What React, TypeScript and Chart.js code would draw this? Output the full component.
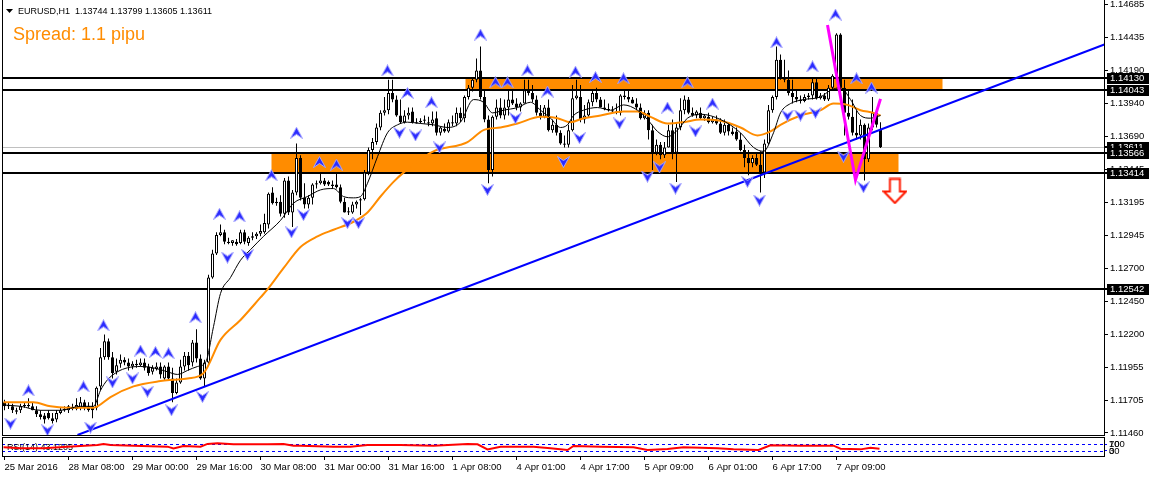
import React, { useEffect, useRef } from 'react';
import { Chart, registerables } from 'chart.js';

Chart.register(...registerables);

const FONT = "'Liberation Sans', Arial, sans-serif";
const ORANGE = '#FF8C00';

const headerText = 'EURUSD,H1  1.13744 1.13799 1.13605 1.13611';
const spreadText = 'Spread: 1.1 pipu';
const rsiText = 'RSI(14) 43.1205';

const timeLabels = [
  '25 Mar 2016', '28 Mar 08:00', '29 Mar 00:00', '29 Mar 16:00', '30 Mar 08:00',
  '31 Mar 00:00', '31 Mar 16:00', '1 Apr 08:00', '4 Apr 01:00', '4 Apr 17:00',
  '5 Apr 09:00', '6 Apr 01:00', '6 Apr 17:00', '7 Apr 09:00',
];
const barsPerLabel = 16;

const priceTicks = [
  1.14685, 1.14435, 1.1419, 1.1394, 1.1369, 1.13445, 1.13195,
  1.12945, 1.127, 1.1245, 1.122, 1.11955, 1.11705, 1.1146,
];
const priceMin = 1.11444;
const priceMax = 1.1472;
const barMin = -0.625;
const barMax = 274.875;

// [open, high, low, close] per H1 bar
const candles: number[][] = [
  [1.1169, 1.1171, 1.1163, 1.1166], [1.1166, 1.1169, 1.1164, 1.1167], [1.1166, 1.1168, 1.1161, 1.1163],
  [1.1163, 1.1165, 1.116, 1.1162], [1.1163, 1.1168, 1.1161, 1.1166], [1.1166, 1.1169, 1.1165, 1.1167],
  [1.1167, 1.1172, 1.1165, 1.1166], [1.1166, 1.1169, 1.1163, 1.1163], [1.1163, 1.1166, 1.1158, 1.116],
  [1.116, 1.1163, 1.1156, 1.1158], [1.1159, 1.1161, 1.1153, 1.1156], [1.1161, 1.1163, 1.1156, 1.1157],
  [1.1157, 1.1161, 1.1153, 1.1155], [1.1156, 1.1163, 1.1154, 1.1161], [1.1161, 1.1165, 1.116, 1.1163],
  [1.1163, 1.1166, 1.1162, 1.1164], [1.1163, 1.1167, 1.1161, 1.1166], [1.1165, 1.1168, 1.1163, 1.1164],
  [1.1164, 1.1172, 1.1163, 1.1167], [1.1165, 1.1173, 1.1163, 1.1169], [1.1169, 1.1171, 1.1163, 1.1165],
  [1.1166, 1.1169, 1.1162, 1.1163], [1.1166, 1.1169, 1.1157, 1.1163], [1.1165, 1.1181, 1.1163, 1.118],
  [1.1181, 1.121, 1.1178, 1.1203], [1.1203, 1.122, 1.1201, 1.1215], [1.1215, 1.1217, 1.1201, 1.1203],
  [1.1203, 1.1207, 1.1187, 1.1191], [1.1192, 1.1202, 1.119, 1.1197], [1.1198, 1.1205, 1.1195, 1.1201],
  [1.1201, 1.1203, 1.1197, 1.1199], [1.1199, 1.1202, 1.1193, 1.1196], [1.1196, 1.12, 1.1194, 1.1198],
  [1.1198, 1.1201, 1.1195, 1.1197], [1.1197, 1.1202, 1.1196, 1.1199], [1.1199, 1.1202, 1.1193, 1.1195],
  [1.1196, 1.1198, 1.1189, 1.1191], [1.1192, 1.1197, 1.119, 1.1195], [1.1194, 1.1199, 1.1193, 1.1196],
  [1.1196, 1.1199, 1.1187, 1.119], [1.1187, 1.1197, 1.1186, 1.1196], [1.1196, 1.1199, 1.1186, 1.1187],
  [1.1187, 1.1195, 1.1169, 1.1176], [1.1176, 1.1187, 1.1175, 1.1184], [1.1184, 1.1201, 1.1183, 1.1196],
  [1.1196, 1.1207, 1.1193, 1.1204], [1.1204, 1.1207, 1.1193, 1.1197], [1.1199, 1.1216, 1.1196, 1.1214],
  [1.1214, 1.1224, 1.1199, 1.1202], [1.1202, 1.1205, 1.1186, 1.1187], [1.1187, 1.1201, 1.1181, 1.1199],
  [1.1199, 1.1265, 1.1197, 1.1263], [1.1263, 1.1284, 1.1262, 1.1281], [1.1281, 1.1297, 1.128, 1.1295],
  [1.1295, 1.1303, 1.1294, 1.1297], [1.1297, 1.1299, 1.1288, 1.129], [1.129, 1.1293, 1.1288, 1.1289],
  [1.1289, 1.1291, 1.1287, 1.1291], [1.129, 1.1292, 1.1287, 1.1288], [1.1289, 1.1299, 1.1288, 1.1297],
  [1.1297, 1.1299, 1.1288, 1.129], [1.1289, 1.1294, 1.1287, 1.1293], [1.1293, 1.1297, 1.1291, 1.1294],
  [1.1294, 1.1297, 1.1292, 1.1296], [1.1296, 1.1303, 1.1294, 1.1298], [1.1297, 1.1311, 1.1296, 1.1304],
  [1.1303, 1.1327, 1.13, 1.1326], [1.1327, 1.1331, 1.1318, 1.1319], [1.1319, 1.1323, 1.1317, 1.132],
  [1.132, 1.1325, 1.1309, 1.1311], [1.1311, 1.1338, 1.1308, 1.1336], [1.1336, 1.1339, 1.131, 1.1312],
  [1.1312, 1.1329, 1.1301, 1.1327], [1.1327, 1.1364, 1.1325, 1.1353], [1.1353, 1.1355, 1.1321, 1.1323],
  [1.1323, 1.1334, 1.1315, 1.1318], [1.1318, 1.1325, 1.1315, 1.1323], [1.1323, 1.1334, 1.1318, 1.1333],
  [1.1333, 1.1336, 1.133, 1.1334], [1.1334, 1.1342, 1.1333, 1.1336], [1.1336, 1.1338, 1.1332, 1.1333],
  [1.1335, 1.1336, 1.1332, 1.1333], [1.1333, 1.1336, 1.133, 1.1332], [1.1333, 1.1342, 1.133, 1.1331],
  [1.1331, 1.1333, 1.1319, 1.132], [1.132, 1.1323, 1.1312, 1.1312], [1.1313, 1.1316, 1.131, 1.1312],
  [1.1312, 1.132, 1.1311, 1.1318], [1.1318, 1.1321, 1.1315, 1.132], [1.1321, 1.1323, 1.131, 1.1322],
  [1.1322, 1.1344, 1.1321, 1.1342], [1.1342, 1.1361, 1.134, 1.1359], [1.1359, 1.1368, 1.1352, 1.1365],
  [1.1365, 1.1379, 1.1363, 1.1376], [1.1376, 1.1389, 1.1374, 1.1387], [1.1387, 1.1399, 1.1385, 1.1389],
  [1.1389, 1.1412, 1.1386, 1.1402], [1.1402, 1.1412, 1.1395, 1.1397], [1.1397, 1.14, 1.1384, 1.1385],
  [1.1385, 1.1397, 1.1379, 1.138], [1.138, 1.1389, 1.1379, 1.1385], [1.1385, 1.1391, 1.1382, 1.1387],
  [1.1388, 1.1391, 1.1379, 1.138], [1.138, 1.1383, 1.1379, 1.1379], [1.138, 1.1383, 1.1379, 1.1381],
  [1.1381, 1.1385, 1.1379, 1.1382], [1.138, 1.1384, 1.1377, 1.1379], [1.1379, 1.1388, 1.1377, 1.1382],
  [1.1383, 1.1388, 1.137, 1.1372], [1.1372, 1.1377, 1.137, 1.1376], [1.1375, 1.1379, 1.1372, 1.1373],
  [1.1373, 1.1382, 1.1372, 1.138], [1.138, 1.1385, 1.1377, 1.1379], [1.1379, 1.1391, 1.1377, 1.1387],
  [1.1387, 1.1391, 1.138, 1.1383], [1.1383, 1.14, 1.138, 1.1399], [1.1399, 1.1408, 1.1397, 1.1406],
  [1.1406, 1.1413, 1.1403, 1.1412], [1.1412, 1.1428, 1.141, 1.1419], [1.1419, 1.1437, 1.1397, 1.1399],
  [1.1399, 1.1404, 1.138, 1.1382], [1.1382, 1.1385, 1.1334, 1.1344], [1.1344, 1.1385, 1.1339, 1.1384],
  [1.1384, 1.1397, 1.1382, 1.1391], [1.1391, 1.1398, 1.1383, 1.1385], [1.1385, 1.1397, 1.1382, 1.1391],
  [1.1391, 1.1404, 1.1385, 1.1397], [1.1397, 1.1404, 1.1393, 1.1394], [1.1394, 1.1398, 1.1389, 1.1391],
  [1.1391, 1.1395, 1.1388, 1.1394], [1.1394, 1.1412, 1.1394, 1.1404], [1.1404, 1.1412, 1.14, 1.1402],
  [1.1402, 1.1408, 1.1395, 1.1397], [1.1397, 1.14, 1.1385, 1.1387], [1.1387, 1.1393, 1.1382, 1.1384],
  [1.1384, 1.1393, 1.1383, 1.1391], [1.1391, 1.1397, 1.1373, 1.1374], [1.1374, 1.1382, 1.1372, 1.1378],
  [1.1378, 1.1385, 1.137, 1.1372], [1.1372, 1.1374, 1.1363, 1.1364], [1.1364, 1.137, 1.1361, 1.1363],
  [1.1363, 1.1378, 1.1361, 1.1374], [1.1374, 1.1408, 1.1373, 1.1398], [1.1398, 1.1412, 1.1397, 1.14],
  [1.1399, 1.1408, 1.138, 1.1382], [1.1382, 1.1393, 1.1379, 1.1385], [1.1385, 1.1397, 1.1384, 1.1395],
  [1.1395, 1.1404, 1.1392, 1.1402], [1.1402, 1.1406, 1.1395, 1.1397], [1.1397, 1.1399, 1.1391, 1.1391],
  [1.1391, 1.1397, 1.1389, 1.139], [1.139, 1.1394, 1.1388, 1.1389], [1.1389, 1.1392, 1.1387, 1.1388],
  [1.1388, 1.1394, 1.1386, 1.1387], [1.1387, 1.1401, 1.1385, 1.14], [1.14, 1.1404, 1.1397, 1.1399],
  [1.1399, 1.1404, 1.1395, 1.1397], [1.1397, 1.1399, 1.1394, 1.1394], [1.1394, 1.1398, 1.1389, 1.1391],
  [1.1391, 1.1394, 1.1382, 1.1383], [1.1383, 1.1389, 1.1382, 1.1387], [1.1387, 1.1389, 1.1367, 1.1374],
  [1.1374, 1.1378, 1.1344, 1.1357], [1.1357, 1.1367, 1.1355, 1.1363], [1.1363, 1.1365, 1.1352, 1.1355],
  [1.1355, 1.1365, 1.1353, 1.1361], [1.1361, 1.1378, 1.1361, 1.1374], [1.1374, 1.1382, 1.1352, 1.1357],
  [1.1357, 1.138, 1.1335, 1.1376], [1.1376, 1.1398, 1.1374, 1.1389], [1.1389, 1.14, 1.1386, 1.1397],
  [1.1397, 1.1399, 1.1386, 1.1387], [1.1387, 1.1391, 1.1384, 1.1385], [1.1385, 1.1389, 1.1383, 1.1388],
  [1.1387, 1.1391, 1.1382, 1.1383], [1.1383, 1.1386, 1.1381, 1.1385], [1.1384, 1.1387, 1.1379, 1.138],
  [1.138, 1.1384, 1.1379, 1.1382], [1.1382, 1.1385, 1.1378, 1.1379], [1.1379, 1.1383, 1.1371, 1.1372],
  [1.1372, 1.1382, 1.137, 1.1378], [1.1378, 1.1379, 1.137, 1.1373], [1.1373, 1.1376, 1.137, 1.1371],
  [1.1373, 1.1376, 1.1366, 1.1367], [1.1367, 1.1372, 1.1358, 1.1359], [1.1359, 1.1363, 1.1346, 1.1353],
  [1.1353, 1.1359, 1.134, 1.1349], [1.1349, 1.1355, 1.1346, 1.1353], [1.1353, 1.1356, 1.1347, 1.1348],
  [1.1348, 1.1358, 1.1327, 1.1342], [1.1342, 1.1367, 1.1338, 1.1364], [1.1364, 1.1393, 1.1363, 1.1389],
  [1.1389, 1.14, 1.1387, 1.1399], [1.1399, 1.1437, 1.1397, 1.1427], [1.1427, 1.1431, 1.1412, 1.1414],
  [1.1414, 1.1427, 1.141, 1.1412], [1.1412, 1.1419, 1.14, 1.1402], [1.1402, 1.1412, 1.1394, 1.1399],
  [1.1399, 1.1404, 1.1395, 1.1397], [1.1397, 1.14, 1.1394, 1.1396], [1.1396, 1.1401, 1.1395, 1.1399],
  [1.1399, 1.1402, 1.1397, 1.14], [1.14, 1.1414, 1.1397, 1.141], [1.141, 1.1413, 1.1397, 1.1398],
  [1.1398, 1.1402, 1.1397, 1.14], [1.14, 1.1402, 1.1396, 1.1397], [1.1397, 1.1408, 1.1396, 1.1406],
  [1.1406, 1.1416, 1.1404, 1.1415], [1.1415, 1.1447, 1.1413, 1.1446], [1.1446, 1.1447, 1.1404, 1.1406],
  [1.1406, 1.1412, 1.137, 1.1387], [1.1387, 1.1404, 1.1382, 1.1384], [1.1384, 1.1397, 1.137, 1.1372],
  [1.1372, 1.1389, 1.1367, 1.137], [1.137, 1.1382, 1.1367, 1.1378], [1.1378, 1.1379, 1.1336, 1.1352],
  [1.1352, 1.1379, 1.135, 1.1376], [1.1376, 1.1399, 1.1374, 1.1387], [1.1387, 1.1389, 1.1376, 1.1378],
  [1.13744, 1.13799, 1.13605, 1.13611],
];

const levelLines = [1.1413, 1.14043, 1.13566, 1.13414, 1.12542];
const bidPrice = 1.13611;

const zoneFrom = [115.25, 66.75];
const zoneTo = [234.5, 223.5];
const zoneHigh = [1.1413, 1.13566];
const zoneLow = [1.14043, 1.13414];

const slowMA: number[][] = [
  [-0.25, 1.1169], [7.25, 1.1169], [11.5, 1.1166], [15.75, 1.1165], [22.25, 1.1165], [23.25, 1.1166],
  [26.5, 1.1173], [32.25, 1.1181], [39, 1.1185], [42.25, 1.1186], [45.75, 1.1187], [49.75, 1.1191],
  [54, 1.1216], [59, 1.1231], [64, 1.1248], [65.75, 1.1254], [69.75, 1.127], [74, 1.1286],
  [78.25, 1.1294], [82.25, 1.1299], [87.25, 1.1305], [90.75, 1.1312], [94, 1.1324], [97.25, 1.1335],
  [99.75, 1.1342], [107.25, 1.1358], [114, 1.1363], [115.75, 1.1365], [119.75, 1.1374], [124, 1.1376],
  [128.25, 1.1379], [134, 1.1384], [138.25, 1.1383], [141.5, 1.138], [144.75, 1.1383], [149, 1.1385],
  [154.75, 1.1388], [158.25, 1.1388], [161.5, 1.1384], [165.75, 1.1379], [169.75, 1.138], [174, 1.1382],
  [179, 1.1381], [184, 1.1376], [188.25, 1.137], [191.5, 1.1373], [194, 1.1378], [199, 1.1385],
  [204, 1.1389], [207.25, 1.1394], [210.75, 1.1393], [214, 1.1389], [217.25, 1.1387], [219, 1.1385],
];

const fastMA: number[][] = [
  [-0.25, 1.1167], [4, 1.1166], [9, 1.1163], [14, 1.1163], [19, 1.1166], [22.25, 1.1166],
  [24, 1.1178], [25.75, 1.1186], [28.25, 1.1192], [30.75, 1.1195], [34, 1.1196], [37.25, 1.1195],
  [40.75, 1.1192], [43.25, 1.119], [45.75, 1.1193], [48.25, 1.1196], [50.25, 1.1199], [52.25, 1.1226],
  [54, 1.1251], [56.5, 1.1263], [59, 1.1276], [61.5, 1.1284], [64.75, 1.1294], [69, 1.1306],
  [72.25, 1.1319], [75.75, 1.1324], [79, 1.1329], [82.25, 1.133], [84.75, 1.1324], [87.25, 1.1323],
  [89, 1.1324], [90.75, 1.1334], [93.25, 1.1354], [95.75, 1.1372], [98.25, 1.1378], [100.75, 1.138],
  [104, 1.1379], [107.25, 1.1378], [110.75, 1.1376], [114, 1.138], [117.25, 1.1397], [119.75, 1.1395],
  [122, 1.1387], [124.75, 1.1389], [128.25, 1.1391], [131.5, 1.1395], [134, 1.1389], [136.5, 1.1383],
  [139, 1.1376], [140.75, 1.1378], [142.25, 1.1385], [144.75, 1.1389], [148.25, 1.1391], [151.5, 1.1389],
  [154.75, 1.1393], [158.25, 1.1389], [160.75, 1.1382], [163.25, 1.1373], [165.75, 1.1369], [168.25, 1.1374],
  [170.75, 1.1383], [174, 1.1386], [179, 1.1382], [184, 1.1372], [187.25, 1.1361], [189.75, 1.1358],
  [192.25, 1.1372], [194, 1.1387], [196.5, 1.1394], [199.75, 1.1397], [204, 1.1399], [206.5, 1.1404],
  [209, 1.1406], [211.5, 1.1397], [214, 1.1385], [216.5, 1.1383], [219, 1.1385],
];

const trendLine: number[][] = [[18.25, 1.11444], [275, 1.14385]];
const zigzagLine: number[][] = [[205.75, 1.14532], [212.75, 1.13365], [219, 1.13975]];

const fractalUp: number[][] = [
  [6, 1.1178], [19.75, 1.1181], [24.75, 1.1227], [34, 1.1208], [37.75, 1.1207], [41, 1.1206],
  [47.75, 1.1233], [53.75, 1.1311], [58.75, 1.1309], [66.75, 1.134], [73, 1.1372], [78.75, 1.135],
  [83, 1.1348], [95.75, 1.1419], [100.75, 1.1402], [106.75, 1.1395], [119, 1.1446], [122.75, 1.141],
  [125.75, 1.141], [130.75, 1.1419], [135.75, 1.1403], [142.75, 1.1418], [147.75, 1.1414], [154.75, 1.1413],
  [165.75, 1.1391], [170.75, 1.141], [177, 1.1394], [193, 1.144], [202, 1.1422], [207.75, 1.1461],
  [213, 1.1413], [216.75, 1.1406],
];

const fractalDown: number[][] = [
  [1.5, 1.1153], [10.75, 1.1148], [21.5, 1.115], [27, 1.1184], [32, 1.1187], [35.75, 1.1177],
  [41.75, 1.1163], [49.5, 1.1173], [55.75, 1.1278], [60.75, 1.128], [71.75, 1.1297], [74.75, 1.131],
  [85.75, 1.1304], [88.5, 1.1304], [98.75, 1.1372], [102.75, 1.137], [108.75, 1.1361], [120.75, 1.1329],
  [127.75, 1.1383], [139.75, 1.135], [143.75, 1.1368], [153.75, 1.1379], [160.75, 1.1339], [163.75, 1.1346],
  [167.75, 1.133], [172.75, 1.1373], [185.75, 1.1335], [188.75, 1.1321], [195.75, 1.1385], [199, 1.1385],
  [202.75, 1.1387], [209.75, 1.1354], [214.75, 1.1331],
];

const sellSignal: number[][] = [[222.6, 1.13282]];

const rsiValues: number[][] = [
  [-0.25, 51], [4, 45], [9.75, 45], [15.75, 55], [23.25, 65], [24.75, 71], [26.5, 65], [32.25, 61],
  [40.75, 55], [42.25, 45], [44.75, 59], [49, 55], [50.75, 71], [53.25, 75], [57.25, 69], [65.75, 69],
  [69.75, 71], [72.25, 61], [74, 61], [82.25, 55], [86.5, 55], [90.75, 65], [99, 65], [107.25, 61],
  [115.75, 71], [118.25, 69], [120.75, 39], [124, 55], [132.25, 55], [136.5, 45], [140.75, 35], [142.25, 59],
  [149, 55], [157.25, 51], [160.75, 35], [165.75, 41], [169.75, 51], [178.25, 45], [182.25, 39], [188.5, 35],
  [191.5, 63], [199, 61], [207.25, 61], [209, 43], [214, 39], [216.5, 49], [218.75, 43],
];
const rsiLevels = [70, 30];
const rsiTickValues = [30, 30, 70, 70];
const rsiTickLabels = ['0', '30', '100', '70'];

function makeFractalArrow(up: boolean): HTMLCanvasElement {
  const c = document.createElement('canvas');
  c.width = 13;
  c.height = 12;
  const g = c.getContext('2d') as CanvasRenderingContext2D;
  g.beginPath();
  if (up) {
    g.moveTo(6.5, 0.5); g.lineTo(12.5, 11.5); g.lineTo(6.5, 7.5); g.lineTo(0.5, 11.5);
  } else {
    g.moveTo(6.5, 11.5); g.lineTo(12.5, 0.5); g.lineTo(6.5, 4.5); g.lineTo(0.5, 0.5);
  }
  g.closePath();
  g.fillStyle = '#2b2bff';
  g.fill();
  g.strokeStyle = '#a6a6ff';
  g.lineWidth = 1;
  g.stroke();
  return c;
}

function makeSellArrow(): HTMLCanvasElement {
  const c = document.createElement('canvas');
  c.width = 25;
  c.height = 27;
  const g = c.getContext('2d') as CanvasRenderingContext2D;
  g.beginPath();
  g.moveTo(7.5, 1.5); g.lineTo(17.5, 1.5); g.lineTo(17.5, 14); g.lineTo(23.5, 14);
  g.lineTo(12.5, 25.5); g.lineTo(1.5, 14); g.lineTo(7.5, 14);
  g.closePath();
  g.fillStyle = '#ffffff';
  g.fill();
  g.strokeStyle = '#ff1a00';
  g.lineWidth = 2;
  g.stroke();
  return c;
}

const toXY = (arr: number[][]) => arr.map((p) => ({ x: p[0], y: p[1] }));

export default function App() {
  const mainRef = useRef<HTMLCanvasElement | null>(null);
  const rsiRef = useRef<HTMLCanvasElement | null>(null);

  useEffect(() => {
    Chart.defaults.font.family = FONT;
    const upImg = makeFractalArrow(true);
    const downImg = makeFractalArrow(false);
    const sellImg = makeSellArrow();

    const decor = {
      id: 'mainDecor',
      beforeDatasetsDraw(chart: any) {
        const { ctx, chartArea } = chart;
        const xs = chart.scales.x;
        const ys = chart.scales.y;
        ctx.save();
        ctx.beginPath();
        ctx.rect(chartArea.left, chartArea.top, chartArea.right - chartArea.left, chartArea.bottom - chartArea.top);
        ctx.clip();
        ctx.fillStyle = ORANGE;
        for (let i = 0; i < zoneFrom.length; i++) {
          const x1 = xs.getPixelForValue(zoneFrom[i]);
          const x2 = xs.getPixelForValue(zoneTo[i]);
          const y1 = ys.getPixelForValue(zoneHigh[i]);
          const y2 = ys.getPixelForValue(zoneLow[i]);
          ctx.fillRect(x1, y1, x2 - x1, y2 - y1);
        }
        const by = Math.round(ys.getPixelForValue(bidPrice));
        ctx.fillStyle = '#c0c0c0';
        ctx.fillRect(chartArea.left, by, chartArea.right - chartArea.left, 1);
        ctx.fillStyle = '#000';
        for (const p of levelLines) {
          const py = Math.round(ys.getPixelForValue(p));
          ctx.fillRect(chartArea.left, py - 1, chartArea.right - chartArea.left, 2);
        }
        ctx.restore();
      },
      afterDraw(chart: any) {
        const { ctx, chartArea } = chart;
        const ys = chart.scales.y;
        ctx.save();
        ctx.fillStyle = '#000';
        ctx.fillRect(chartArea.left, 0, 1, chartArea.bottom + 1);
        ctx.fillRect(chartArea.left, chartArea.bottom, chartArea.right - chartArea.left + 1, 1);
        ctx.fillRect(chartArea.right, 0, 1, chartArea.bottom + 1);
        ctx.font = `9.5px ${FONT}`;
        ctx.textBaseline = 'middle';
        ctx.textAlign = 'left';
        const boxes = [bidPrice, ...levelLines];
        for (const p of boxes) {
          const py = Math.round(ys.getPixelForValue(p));
          ctx.fillStyle = '#000';
          ctx.fillRect(chartArea.right, py - 1, 4, 2);
          ctx.fillRect(chartArea.right + 3, py - 5, 46, 11);
          ctx.fillStyle = '#fff';
          ctx.fillText(p.toFixed(5), chartArea.right + 6, py + 0.5);
        }
        ctx.fillStyle = '#000';
        ctx.beginPath();
        ctx.moveTo(6, 9); ctx.lineTo(13, 9); ctx.lineTo(9.5, 13); ctx.closePath();
        ctx.fill();
        ctx.font = `9px ${FONT}`;
        ctx.textBaseline = 'alphabetic';
        ctx.fillText(headerText, 18, 14);
        ctx.fillStyle = ORANGE;
        ctx.font = `18px ${FONT}`;
        ctx.fillText(spreadText, 13, 40);
        ctx.restore();
      },
    };

    const bodyColors = candles.map((c) => (c[3] >= c[0] ? '#ffffff' : '#000000'));

    const main = new Chart(mainRef.current as HTMLCanvasElement, {
      type: 'bar',
      data: {
        datasets: [
          {
            type: 'bar',
            data: candles.map((c, i) => ({ x: i, y: [c[2], c[1]] })) as any,
            backgroundColor: '#000',
            borderWidth: 0,
            barThickness: 1,
            inflateAmount: 0,
            grouped: false,
            order: 10,
          } as any,
          {
            type: 'bar',
            data: candles.map((c, i) => ({ x: i, y: [c[0], c[3]] })) as any,
            backgroundColor: bodyColors,
            borderColor: '#000',
            borderWidth: 1,
            borderSkipped: false,
            barThickness: 3,
            inflateAmount: 0,
            grouped: false,
            order: 9,
          } as any,
          {
            type: 'line',
            data: toXY(slowMA) as any,
            borderColor: ORANGE,
            borderWidth: 2,
            pointRadius: 0,
            cubicInterpolationMode: 'monotone',
            order: 8,
          } as any,
          {
            type: 'line',
            data: toXY(fastMA) as any,
            borderColor: '#000',
            borderWidth: 1,
            pointRadius: 0,
            cubicInterpolationMode: 'monotone',
            order: 7,
          } as any,
          {
            type: 'line',
            data: toXY(trendLine) as any,
            borderColor: '#0000ff',
            borderWidth: 2,
            pointRadius: 0,
            order: 6,
          } as any,
          {
            type: 'line',
            data: toXY(zigzagLine) as any,
            borderColor: '#ff00ff',
            borderWidth: 3,
            pointRadius: 0,
            order: 5,
          } as any,
          {
            type: 'line',
            data: toXY(fractalUp) as any,
            showLine: false,
            pointStyle: upImg,
            pointRadius: 6,
            order: 4,
          } as any,
          {
            type: 'line',
            data: toXY(fractalDown) as any,
            showLine: false,
            pointStyle: downImg,
            pointRadius: 6,
            order: 4,
          } as any,
          {
            type: 'line',
            data: toXY(sellSignal) as any,
            showLine: false,
            pointStyle: sellImg,
            pointRadius: 12,
            order: 3,
          } as any,
        ],
      },
      options: {
        responsive: false,
        animation: false,
        events: [],
        layout: { autoPadding: false, padding: { left: 2, top: 0, right: 0, bottom: 5 } },
        plugins: { legend: { display: false }, tooltip: { enabled: false } },
        scales: {
          x: { type: 'linear', min: barMin, max: barMax, display: false, offset: false },
          y: {
            type: 'linear',
            position: 'right',
            min: priceMin,
            max: priceMax,
            afterBuildTicks: (s: any) => { s.ticks = priceTicks.map((v) => ({ value: v })); },
            afterFit: (s: any) => { s.width = 45; s.paddingTop = 0; s.paddingBottom = 0; },
            ticks: {
              autoSkip: false,
              padding: 2,
              color: '#000',
              font: { family: FONT, size: 9.5 },
              callback: (v: any) => Number(v).toFixed(5),
            },
            grid: { drawOnChartArea: false, drawTicks: true, tickLength: 4, color: '#000' },
            border: { display: false },
          },
        },
      } as any,
      plugins: [decor],
    });

    const rsiDecor = {
      id: 'rsiDecor',
      beforeDatasetsDraw(chart: any) {
        const { ctx, chartArea } = chart;
        const ys = chart.scales.y;
        ctx.save();
        ctx.strokeStyle = '#0000ff';
        ctx.lineWidth = 1;
        ctx.setLineDash([3, 3]);
        for (const lv of rsiLevels) {
          const py = Math.round(ys.getPixelForValue(lv)) + 0.5;
          ctx.beginPath();
          ctx.moveTo(chartArea.left, py);
          ctx.lineTo(chartArea.right, py);
          ctx.stroke();
        }
        ctx.setLineDash([]);
        ctx.fillStyle = '#000';
        ctx.font = `9px ${FONT}`;
        ctx.textBaseline = 'middle';
        ctx.fillText(rsiText, 7, 10.5);
        ctx.restore();
      },
      afterDraw(chart: any) {
        const { ctx, chartArea } = chart;
        ctx.save();
        ctx.strokeStyle = '#000';
        ctx.lineWidth = 1;
        ctx.strokeRect(chartArea.left + 0.5, 0.5, chartArea.right - chartArea.left, chartArea.bottom);
        ctx.restore();
      },
    };

    const rsi = new Chart(rsiRef.current as HTMLCanvasElement, {
      type: 'line',
      data: {
        datasets: [
          {
            data: toXY(rsiValues) as any,
            borderColor: '#ff0000',
            borderWidth: 2,
            pointRadius: 0,
          },
        ],
      },
      options: {
        responsive: false,
        animation: false,
        events: [],
        layout: { autoPadding: false, padding: { left: 2, top: 2, right: 0, bottom: 0 } },
        plugins: { legend: { display: false }, tooltip: { enabled: false } },
        scales: {
          x: {
            type: 'linear',
            min: barMin,
            max: barMax,
            position: 'bottom',
            afterBuildTicks: (s: any) => { s.ticks = timeLabels.map((_, k) => ({ value: k * barsPerLabel })); },
            afterFit: (s: any) => { s.height = 22; s.paddingLeft = 0; s.paddingRight = 0; },
            ticks: {
              autoSkip: false,
              maxRotation: 0,
              minRotation: 0,
              align: 'start',
              padding: 2,
              color: '#000',
              font: { family: FONT, size: 9.5 },
              callback: (_v: any, i: number) => timeLabels[i],
            },
            grid: { drawOnChartArea: false, drawTicks: true, tickLength: 4, color: '#000' },
            border: { display: false },
          },
          y: {
            type: 'linear',
            position: 'right',
            min: 0,
            max: 100,
            afterBuildTicks: (s: any) => { s.ticks = rsiTickValues.map((v) => ({ value: v })); },
            afterFit: (s: any) => { s.width = 45; s.paddingTop = 0; s.paddingBottom = 0; },
            ticks: {
              autoSkip: false,
              padding: 2,
              color: '#000',
              font: { family: FONT, size: 9.5 },
              callback: (_v: any, i: number) => rsiTickLabels[i],
            },
            grid: { drawOnChartArea: false, drawTicks: true, tickLength: 3, color: '#0000ff' },
            border: { display: false },
          },
        },
      } as any,
      plugins: [rsiDecor],
    });

    return () => {
      main.destroy();
      rsi.destroy();
    };
  }, []);

  return (
    <div style={{ position: 'fixed', left: 0, top: 0, width: 1149, height: 478, background: '#fff', overflow: 'hidden' }}>
      <canvas ref={mainRef} width={1149} height={440} style={{ position: 'absolute', left: 0, top: 0 }} />
      <canvas ref={rsiRef} width={1149} height={41} style={{ position: 'absolute', left: 0, top: 437 }} />
    </div>
  );
}
